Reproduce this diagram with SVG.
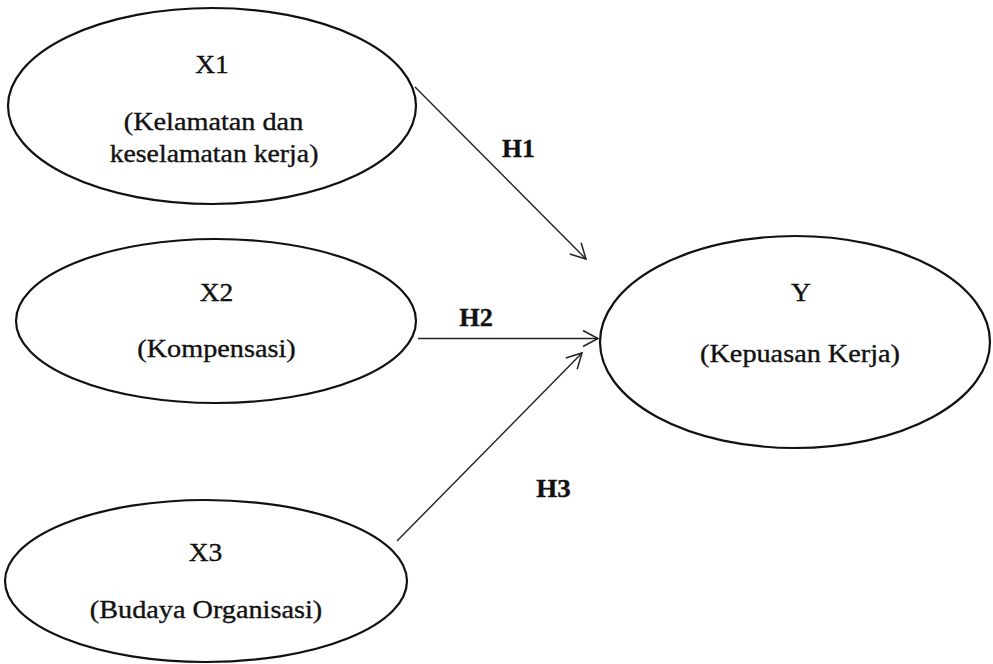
<svg xmlns="http://www.w3.org/2000/svg" width="993" height="664" viewBox="0 0 993 664">
<style>
.node ellipse{fill:#fff;stroke:#111;stroke-width:2.2}
text{font-family:"Liberation Serif","Times New Roman",serif;font-size:25px;fill:#111;stroke:#111;stroke-width:0.35;text-anchor:middle}
.lbl{font-weight:bold}
.edge{stroke:#222;stroke-width:1.4;fill:none;marker-end:url(#arr)}
</style>
<defs>
<marker id="arr" markerUnits="userSpaceOnUse" markerWidth="20" markerHeight="20" viewBox="-17 -10 20 20" refX="0" refY="0" orient="auto">
<path d="M-15,-8 L0,0 L-15,8" fill="none" stroke="#222" stroke-width="1.5"/>
</marker>
</defs>
<rect width="993" height="664" fill="#fff"/>
<g id="X1" class="node">
<ellipse cx="212" cy="106" rx="204" ry="98"/>
<text transform="translate(212,73) scale(1.1,1)">X1</text>
<text transform="translate(213.5,130) scale(1.13,1)">(Kelamatan dan</text>
<text transform="translate(214,162) scale(1.11,1)">keselamatan kerja)</text>
</g>
<g id="X2" class="node">
<ellipse cx="216" cy="321" rx="200" ry="82"/>
<text transform="translate(216.5,301) scale(1.1,1)">X2</text>
<text transform="translate(216.5,357) scale(1.13,1)">(Kompensasi)</text>
</g>
<g id="X3" class="node">
<ellipse cx="206" cy="581" rx="201" ry="81"/>
<text transform="translate(205.5,561) scale(1.1,1)">X3</text>
<text transform="translate(206,618) scale(1.13,1)">(Budaya Organisasi)</text>
</g>
<g id="Y" class="node">
<ellipse cx="795" cy="342" rx="195" ry="106"/>
<text transform="translate(801,301) scale(1.1,1)">Y</text>
<text transform="translate(800,362) scale(1.13,1)">(Kepuasan Kerja)</text>
</g>
<g id="connectors">
<line class="edge" x1="415" y1="87" x2="586" y2="259"/>
<line class="edge" x1="418" y1="338.5" x2="598" y2="338.5"/>
<line class="edge" x1="397" y1="541" x2="582" y2="353"/>
<text class="lbl" transform="translate(518.5,157) scale(1.03,1)">H1</text>
<text class="lbl" transform="translate(476,326) scale(1.05,1)">H2</text>
<text class="lbl" transform="translate(553.5,497) scale(1.08,1)">H3</text>
</g>
</svg>
